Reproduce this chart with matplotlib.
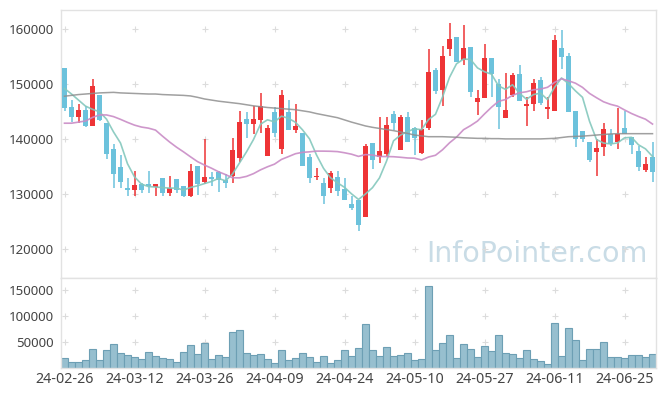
# Candlestick chart with moving averages and volume
import matplotlib
matplotlib.use('Agg')
import matplotlib.pyplot as plt
import numpy as np
import pandas as pd

# Importing the data
dates = ['24-02-26', '24-02-27', '24-02-28', '24-02-29', '24-03-04', '24-03-05', '24-03-06', '24-03-07', '24-03-08', '24-03-11',
         '24-03-12', '24-03-13', '24-03-14', '24-03-15', '24-03-18', '24-03-19', '24-03-20', '24-03-21', '24-03-22', '24-03-25',
         '24-03-26', '24-03-27', '24-03-28', '24-03-29', '24-04-01', '24-04-02', '24-04-03', '24-04-04', '24-04-05', '24-04-08',
         '24-04-09', '24-04-11', '24-04-12', '24-04-15', '24-04-16', '24-04-17', '24-04-18', '24-04-19', '24-04-22', '24-04-23',
         '24-04-24', '24-04-25', '24-04-26', '24-04-29', '24-04-30', '24-05-02', '24-05-03', '24-05-07', '24-05-08', '24-05-09',
         '24-05-10', '24-05-13', '24-05-14', '24-05-16', '24-05-17', '24-05-20', '24-05-21', '24-05-22', '24-05-23', '24-05-24',
         '24-05-27', '24-05-28', '24-05-29', '24-05-30', '24-05-31', '24-06-03', '24-06-04', '24-06-05', '24-06-07', '24-06-10',
         '24-06-11', '24-06-12', '24-06-13', '24-06-14', '24-06-17', '24-06-18', '24-06-19', '24-06-20', '24-06-21', '24-06-24',
         '24-06-25', '24-06-26', '24-06-27', '24-06-28', '24-07-01']

opens = [152900, 145800, 144100, 145300, 142400, 148000, 142900, 138200, 134900, 131100,
         130800, 131900, 131800, 131400, 132900, 130300, 132800, 131500, 129600, 135100,
         132200, 133100, 134000, 132600, 133300, 136600, 143700, 142800, 143500, 137000,
         144900, 138300, 144900, 141700, 141100, 136800, 133100, 132000, 131200, 133100,
         130900, 128200, 128900, 125900, 139300, 136800, 137300, 144500, 138100, 144000,
         142000, 137500, 142000, 152500, 149000, 156400, 158500, 154400, 156700, 146800,
         147400, 154700, 150100, 143900, 148000, 151900, 146100, 146300, 150700, 145500,
         145200, 156500, 155100, 145100, 141500, 139500, 137700, 138500, 140900, 139400,
         142100, 140400, 137800, 134400, 136800]
highs = [152900, 147100, 146300, 146100, 151000, 148000, 142900, 139200, 137200, 132900,
         134300, 132100, 134300, 131900, 132900, 133300, 132800, 131500, 135500, 135200,
         140000, 134000, 134300, 133600, 140300, 145100, 144900, 146000, 148300, 142500,
         145900, 148900, 147200, 146300, 141100, 137300, 134800, 132900, 134300, 134300,
         133000, 129700, 128900, 139200, 139300, 144000, 144000, 145200, 144300, 144900,
         142300, 143500, 156300, 153000, 157000, 161000, 158500, 160800, 156700, 149000,
         157300, 154700, 151000, 152100, 152100, 153400, 147700, 151000, 151200, 147700,
         158900, 159800, 155600, 145100, 141500, 139500, 140000, 143000, 141800, 145600,
         145100, 140400, 138800, 136800, 139400]
lows = [145200, 143200, 142900, 142300, 142400, 143300, 136400, 131100, 131100, 129600,
        129700, 130300, 130200, 129600, 129600, 129600, 130200, 129500, 129500, 129900,
        131800, 131500, 130500, 131100, 132100, 135800, 140200, 140900, 141100, 137000,
        140400, 137300, 141700, 141100, 135200, 132100, 132500, 128200, 130300, 129600,
        128900, 127100, 123400, 125900, 134600, 135600, 136900, 141700, 138100, 139400,
        137100, 137400, 141700, 148200, 146000, 155100, 154100, 153500, 147600, 144300,
        147400, 147600, 141800, 143900, 147600, 147000, 142400, 145200, 146200, 143600,
        145200, 152700, 145000, 138600, 139500, 135900, 133400, 136900, 138800, 138300,
        140900, 137300, 134300, 134000, 132200]
closes = [145700, 144100, 145300, 142400, 149600, 143500, 137400, 133700, 132300, 130800,
          131600, 130800, 131500, 131900, 130300, 131100, 130800, 129700, 134300, 131800,
          133100, 132700, 132500, 132100, 138000, 143100, 142800, 143700, 146000, 142000,
          141200, 148000, 141700, 142400, 135200, 133000, 133400, 129600, 133800, 130600,
          128900, 127500, 124500, 138800, 136300, 137800, 142600, 143000, 144000, 139500,
          140300, 141800, 152200, 148800, 155100, 158200, 154100, 156500, 148500, 147400,
          154700, 151900, 145900, 145300, 151600, 147000, 146400, 150200, 146600, 145800,
          158000, 155000, 145000, 140000, 140000, 136300, 138400, 141800, 139200, 140900,
          140900, 138900, 135000, 135500, 134000]
volumes = [19000, 11300, 11300, 15200, 36400, 15200, 34500, 46100, 28700, 24800,
           21000, 17100, 30600, 22900, 19000, 17100, 11300, 30600, 44200, 26800,
           48100, 17100, 24800, 21000, 69300, 73200, 28700, 24800, 26800, 17100,
           9400, 34500, 15200, 19000, 28700, 21000, 11300, 22900, 9400, 15200,
           34500, 22900, 38400, 84800, 34500, 22900, 40300, 22900, 24800, 28700,
           15200, 17100, 158300, 34500, 48100, 63500, 19000, 46100, 36400, 21000,
           42200, 32600, 63500, 28700, 26800, 19000, 34500, 17100, 13200, 7400,
           86800, 22900, 77100, 53900, 15200, 36400, 36400, 50000, 21000, 21000,
           19000, 24800, 24800, 21000, 26800]

# moving averages: first values depend on days before the chart, so read them off
ma5_head = [149200, 148200, 147100, 146000]
ma20_head = [142900, 142900, 143100, 143300, 143950, 144400, 144400, 144100, 143600, 143050,
             142550, 142200, 142000, 141650, 140550, 139500, 138550, 137700, 136800]
ma60 = [147800, 147950, 148100, 148200, 148300, 148400, 148450, 148500, 148400, 148350,
        148300, 148250, 148200, 148200, 148100, 148050, 148000, 147950, 147850, 147600,
        147300, 147100, 146900, 146750, 146600, 146450, 146250, 146050, 145900, 145750,
        145650, 145550, 145450, 145350, 145150, 144950, 144650, 144400, 144150, 143900,
        143500, 143100, 142750, 142400, 142150, 141950, 141750, 141550, 141300, 141050,
        140750, 140600, 140450, 140450, 140450, 140400, 140350, 140250, 140200, 140150,
        140150, 140100, 140100, 140050, 140050, 140050, 140050, 140050, 140050, 140100,
        140150, 140300, 140450, 140500, 140550, 140650, 140750, 140850, 140950, 141000,
        141000, 141000, 141000, 141000, 141000]

df = pd.DataFrame({'date': dates, 'open': opens, 'high': highs, 'low': lows,
                   'close': closes, 'volume': volumes, 'ma60': ma60})
df['ma5'] = df['close'].rolling(5).mean()
df.loc[:3, 'ma5'] = ma5_head
df['ma20'] = df['close'].rolling(20).mean()
df.loc[:18, 'ma20'] = ma20_head

x = np.arange(len(df))
up = df['close'] >= df['open']
red = '#ee3436'
blue = '#6cc2dc'
grid_c = '#dcdcdc'
text_c = '#444444'

plt.rcParams['font.family'] = ['Noto Sans', 'DejaVu Sans']

fig = plt.figure(figsize=(6.65, 3.96), dpi=100)
ax = fig.add_axes([61 / 665, 1 - 278 / 396, 595 / 665, 268 / 396])
axv = fig.add_axes([61 / 665, 1 - 368 / 396, 595 / 665, 90 / 396])

# candles
body_bottom = np.minimum(df['open'], df['close'])
body_h = np.maximum(np.abs(df['close'] - df['open']), 250)
colors = np.where(up, red, blue)
ax.vlines(x, df['low'], df['high'], colors=colors, linewidth=1.1, zorder=2)
ax.bar(x, body_h, bottom=body_bottom, width=0.72, color=colors, zorder=3)

# moving averages
ax.plot(x, df['ma5'], color='#84c8bd', lw=1.2, alpha=0.9, zorder=4)
ax.plot(x, df['ma20'], color='#c98cc6', lw=1.2, alpha=0.9, zorder=4)
ax.plot(x, df['ma60'], color='#8f8f8f', lw=1.1, alpha=0.85, zorder=4)

# volume
axv.bar(x, df['volume'], width=0.92, color='#97bfcf', edgecolor='#6d9fb4', linewidth=0.8, zorder=2)

xt = x[::10]
for a, yt in [(ax, [120000, 130000, 140000, 150000, 160000]), (axv, [50000, 100000, 150000])]:
    a.set_xlim(-0.5, len(df) - 0.5)
    a.set_yticks(yt)
    a.set_xticks(xt)
    gx, gy = np.meshgrid(xt, yt)
    a.scatter(gx.ravel(), gy.ravel(), marker='+', s=16, color=grid_c, linewidths=0.8, zorder=1)
    for s in a.spines.values():
        s.set_color('#e2e2e2')
        s.set_linewidth(1)
    a.tick_params(length=0, labelsize=9.5, colors=text_c, pad=5)

ax.set_ylim(114800, 163450)
ax.set_xticklabels([])
axv.set_ylim(0, 173500)
axv.set_xticklabels(df['date'][::10], fontsize=10.3)
axv.tick_params(axis='x', pad=3)

ax.text(0.9865, 0.09, 'InfoPointer.com', transform=ax.transAxes, ha='right', va='center',
        fontsize=20.5, color='#c9dce6', family='DejaVu Sans', zorder=0)

fig.savefig('out.png', dpi=100)
